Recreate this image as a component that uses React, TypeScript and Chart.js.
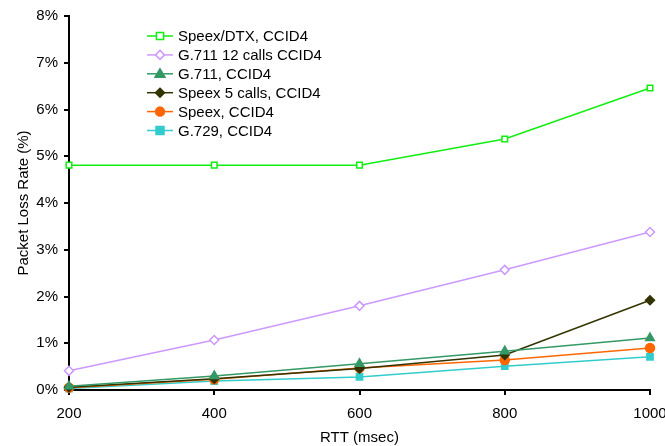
import React, { useEffect, useRef } from "react";
import { Chart, registerables } from "chart.js";

Chart.register(...registerables);

const rtt = [200, 400, 600, 800, 1000];
const speexDtx = [4.81, 4.81, 4.81, 5.37, 6.46];
const g711Calls12 = [0.41, 1.07, 1.8, 2.57, 3.38];
const g711 = [0.08, 0.3, 0.56, 0.83, 1.11];
const speexCalls5 = [0.06, 0.24, 0.46, 0.75, 1.92];
const speex = [0.05, 0.23, 0.47, 0.64, 0.9];
const g729 = [0.03, 0.19, 0.28, 0.51, 0.71];
const yTicks = [0, 1, 2, 3, 4, 5, 6, 7, 8];

const FONT = "'Liberation Sans', Arial, sans-serif";

type Series = { label: string; data: number[]; color: string; style: string; fill: string; radius: number };

const series: Series[] = [
  { label: "Speex/DTX, CCID4", data: speexDtx, color: "#11ee11", style: "rect", fill: "#ffffff", radius: 4.5 },
  { label: "G.711 12 calls CCID4", data: g711Calls12, color: "#cc99ff", style: "rectRot", fill: "#ffffff", radius: 4.5 },
  { label: "G.711, CCID4", data: g711, color: "#339966", style: "triangle", fill: "#339966", radius: 5 },
  { label: "Speex 5 calls, CCID4", data: speexCalls5, color: "#333300", style: "rectRot", fill: "#333300", radius: 4.5 },
  { label: "Speex, CCID4", data: speex, color: "#ff6600", style: "circle", fill: "#ff6600", radius: 4.5 },
  { label: "G.729, CCID4", data: g729, color: "#33cccc", style: "rect", fill: "#33cccc", radius: 5 },
];

function drawMarker(ctx: CanvasRenderingContext2D, s: Series, x: number, y: number) {
  const r = s.radius;
  ctx.save();
  ctx.fillStyle = s.fill;
  ctx.strokeStyle = s.color;
  ctx.lineWidth = 1.5;
  ctx.beginPath();
  if (s.style === "rect") {
    const h = r * 0.8;
    ctx.rect(x - h, y - h, 2 * h, 2 * h);
  } else if (s.style === "rectRot") {
    ctx.moveTo(x, y - r);
    ctx.lineTo(x + r, y);
    ctx.lineTo(x, y + r);
    ctx.lineTo(x - r, y);
    ctx.closePath();
  } else if (s.style === "triangle") {
    ctx.moveTo(x, y - r);
    ctx.lineTo(x + r, y + r * 0.7);
    ctx.lineTo(x - r, y + r * 0.7);
    ctx.closePath();
  } else {
    ctx.arc(x, y, r, 0, Math.PI * 2);
  }
  ctx.fill();
  ctx.stroke();
  ctx.restore();
}

const legendPlugin = {
  id: "customLegend",
  afterDraw(chart: any) {
    const ctx: CanvasRenderingContext2D = chart.ctx;
    const x0 = 147;
    const x1 = 173;
    const y0 = 36;
    const dy = 18.9;
    ctx.save();
    ctx.font = `15px ${FONT}`;
    ctx.textBaseline = "middle";
    ctx.textAlign = "left";
    series.forEach((s, i) => {
      const y = y0 + i * dy;
      ctx.strokeStyle = s.color;
      ctx.lineWidth = 1.5;
      ctx.beginPath();
      ctx.moveTo(x0, y);
      ctx.lineTo(x1, y);
      ctx.stroke();
      drawMarker(ctx, s, (x0 + x1) / 2, y);
      ctx.fillStyle = "#000";
      ctx.fillText(s.label, 178, y + 1);
    });
    ctx.restore();
  },
};

export default function App() {
  const ref = useRef<HTMLCanvasElement>(null);
  useEffect(() => {
    document.body.style.margin = "0";
    document.body.style.overflow = "hidden";
    const canvas = ref.current!;
    const chart = new Chart(canvas, {
      type: "line",
      data: {
        datasets: series.map((s) => ({
          label: s.label,
          data: s.data.map((v, i) => ({ x: rtt[i], y: v })),
          borderColor: s.color,
          backgroundColor: s.fill,
          pointBorderColor: s.color,
          pointBackgroundColor: s.fill,
          pointStyle: s.style as any,
          pointRadius: s.style === "rect" ? s.radius * 0.8 * 1.1 : s.radius,
          pointBorderWidth: 1.5,
          borderWidth: 1.5,
          tension: 0,
          fill: false,
          clip: false as any,
        })),
      },
      options: {
        animation: false,
        responsive: false,
        devicePixelRatio: 1,
        layout: { padding: { top: 16, right: 15, left: 0, bottom: 0 } },
        plugins: { legend: { display: false }, tooltip: { enabled: false } },
        scales: {
          x: {
            type: "linear",
            min: 200,
            max: 1000,
            afterFit: (sc: any) => {
              sc.height = 56;
              sc.paddingLeft = 0;
              sc.paddingRight = 0;
            },
            afterBuildTicks: (sc: any) => {
              sc.ticks = rtt.map((v) => ({ value: v }));
            },
            ticks: {
              color: "#000",
              font: { family: FONT, size: 15 },
              padding: 10,
              maxRotation: 0,
              callback: (v: any) => String(v),
            },
            grid: { display: true, drawOnChartArea: false, drawTicks: true, tickLength: 5, color: "#000", lineWidth: 2 },
            border: { display: true, color: "#000", width: 2 },
            title: {
              display: true,
              text: "RTT (msec)",
              color: "#000",
              font: { family: FONT, size: 15 },
              padding: { top: 0, bottom: -1 },
            },
          },
          y: {
            min: 0,
            max: 8,
            afterFit: (sc: any) => {
              sc.width = 69;
              sc.paddingTop = 0;
              sc.paddingBottom = 0;
            },
            afterBuildTicks: (sc: any) => {
              sc.ticks = yTicks.map((v) => ({ value: v }));
            },
            ticks: {
              color: "#000",
              font: { family: FONT, size: 15 },
              padding: 6,
              callback: (v: any) => v + "%",
            },
            grid: { display: true, drawOnChartArea: false, drawTicks: true, tickLength: 5, color: "#000", lineWidth: 2 },
            border: { display: true, color: "#000", width: 2 },
            title: {
              display: true,
              text: "Packet Loss Rate (%)",
              color: "#000",
              font: { family: FONT, size: 15 },
              padding: { top: 15, bottom: 0 },
            },
          },
        },
      },
      plugins: [legendPlugin],
    });
    return () => chart.destroy();
  }, []);
  return (
    <div style={{ position: "absolute", left: 0, top: 0, width: 665, height: 446, background: "#fff" }}>
      <canvas ref={ref} width={665} height={446} style={{ display: "block" }} />
    </div>
  );
}
